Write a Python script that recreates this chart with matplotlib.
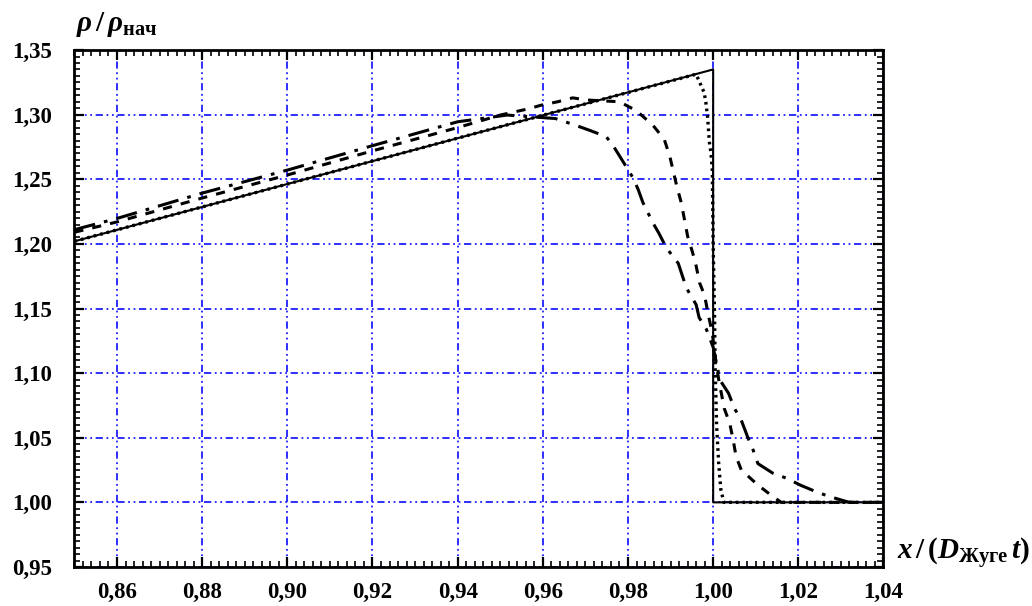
import numpy as np
import matplotlib
matplotlib.use('Agg')
import matplotlib.pyplot as plt
from matplotlib.ticker import MultipleLocator, FuncFormatter

plt.rcParams['font.family'] = ['Liberation Serif', 'DejaVu Serif']
plt.rcParams['mathtext.fontset'] = 'custom'
plt.rcParams['mathtext.it'] = 'Liberation Serif:italic:bold'
plt.rcParams['mathtext.bf'] = 'Liberation Serif:bold'
plt.rcParams['mathtext.rm'] = 'Liberation Serif:bold'

# exact solution
x_exact = [0.85, 1.00, 1.00, 1.04]
rho_exact = [1.202, 1.335, 1.000, 1.000]

# fine grid (dotted)
x_fine = [0.85, 0.90, 0.95, 0.99, 0.996, 0.9971, 0.9979, 0.9983, 0.9987, 0.9991,
          0.9995, 0.9998, 1.0000, 1.0003, 1.0005, 1.0008, 1.0013, 1.0018, 1.0025, 1.04]
rho_fine = [1.202, 1.2463, 1.2907, 1.326, 1.3313, 1.323, 1.317, 1.309, 1.298, 1.279,
            1.270, 1.257, 1.200, 1.150, 1.100, 1.060, 1.030, 1.010, 1.000, 1.000]

# medium grid (dashed)
x_dash = [0.85, 0.86, 0.88, 0.90, 0.92, 0.94, 0.95, 0.9563, 0.9597, 0.9635, 0.967,
          0.9706, 0.978, 0.982, 0.9858, 0.9885, 0.9898, 0.9915, 0.9925, 0.994, 0.9952,
          0.996, 0.9968, 0.998, 0.9988, 0.9998, 1.0005, 1.0013, 1.0026, 1.0039, 1.0047,
          1.0054, 1.0066, 1.0105, 1.0141, 1.016, 1.04]
rho_dash = [1.209, 1.217, 1.2355, 1.2533, 1.272, 1.290, 1.2997, 1.3043, 1.3074, 1.310, 1.313,
            1.3113, 1.310, 1.303, 1.292, 1.281, 1.268, 1.244, 1.232, 1.206, 1.193,
            1.183, 1.170, 1.160, 1.146, 1.131, 1.112, 1.095, 1.0727, 1.0611, 1.0482,
            1.0353, 1.0251, 1.0134, 1.0043, 1.000, 1.000]

# coarse grid (dash-dot)
x_dd = [0.85, 0.86, 0.88, 0.90, 0.92, 0.94, 0.9516, 0.963, 0.9675, 0.9709, 0.9749,
        0.9767, 0.9784, 0.9812, 0.9824, 0.9835, 0.9859, 0.9873, 0.9890, 0.9918, 0.9925,
        0.9937, 0.9960, 0.9967, 0.9984, 1.0000, 1.0016, 1.0036, 1.0050, 1.0066, 1.0082,
        1.0094, 1.0105, 1.0140, 1.0172, 1.0205, 1.0244, 1.0275, 1.032, 1.04]
rho_dd = [1.211, 1.2197, 1.2393, 1.2571, 1.276, 1.2945, 1.2997, 1.297, 1.292, 1.288, 1.283,
          1.275, 1.266, 1.251, 1.242, 1.232, 1.216, 1.208, 1.197, 1.185, 1.178,
          1.166, 1.153, 1.143, 1.134, 1.120, 1.0946, 1.0845, 1.0727, 1.0636, 1.0497,
          1.0404, 1.030, 1.0226, 1.0187, 1.0133, 1.0079, 1.0043, 1.000, 1.000]

xticks = [0.86, 0.88, 0.90, 0.92, 0.94, 0.96, 0.98, 1.00, 1.02, 1.04]
yticks = [0.95, 1.00, 1.05, 1.10, 1.15, 1.20, 1.25, 1.30, 1.35]

fig = plt.figure(figsize=(10.32, 6.06), dpi=100)
ax = fig.add_axes([0.0721, 0.0644, 0.784, 0.853])

grid_style = dict(color='#1f1fff', linewidth=1.3, linestyle=(0, (4, 2, 1, 2, 1, 2)))
for xv in xticks:
    ax.axvline(xv, zorder=1, **grid_style)
for yv in yticks:
    ax.axhline(yv, zorder=1, **grid_style)

ax.plot(x_exact, rho_exact, color='black', lw=1.5, zorder=3)
ax.plot(x_fine, rho_fine, color='black', lw=2.4, linestyle=(0, (0.8, 1.2)), zorder=4)
ax.plot(x_dash, rho_dash, color='black', lw=2.2, linestyle=(0, (3, 3)), zorder=4)
ax.plot(x_dd, rho_dd, color='black', lw=2.2, linestyle=(0, (7, 3, 1.2, 3)), zorder=4)

ax.set_xlim(0.85, 1.04)
ax.set_ylim(0.95, 1.35)
ax.set_xticks(xticks)
ax.set_yticks(yticks)
ax.xaxis.set_minor_locator(MultipleLocator(0.002))
ax.yaxis.set_minor_locator(MultipleLocator(0.005))
fmt = FuncFormatter(lambda v, p: f'{v:.2f}'.replace('.', ','))
ax.xaxis.set_major_formatter(fmt)
ax.yaxis.set_major_formatter(fmt)

ax.tick_params(which='both', direction='in', top=True, right=True, color='black')
ax.tick_params(which='major', length=7, width=1.6)
ax.tick_params(which='minor', length=4, width=1.2)
ax.tick_params(axis='x', which='major', pad=11, labelsize=16.5)
ax.tick_params(axis='y', which='major', pad=16, labelsize=16.5)
for lab in ax.get_xticklabels() + ax.get_yticklabels():
    lab.set_fontweight('bold')
for s in ax.spines.values():
    s.set_linewidth(2)

fig.text(0.074, 0.960, r'$\rho\,/\,\rho_{\mathbf{нач}}$', fontsize=21, ha='left', va='center')
fig.text(0.869, 0.087, r'$x\,/\,(D_{\mathbf{Жуге}}\,t)$', fontsize=21, ha='left', va='center')

fig.savefig('out.png', dpi=100)
